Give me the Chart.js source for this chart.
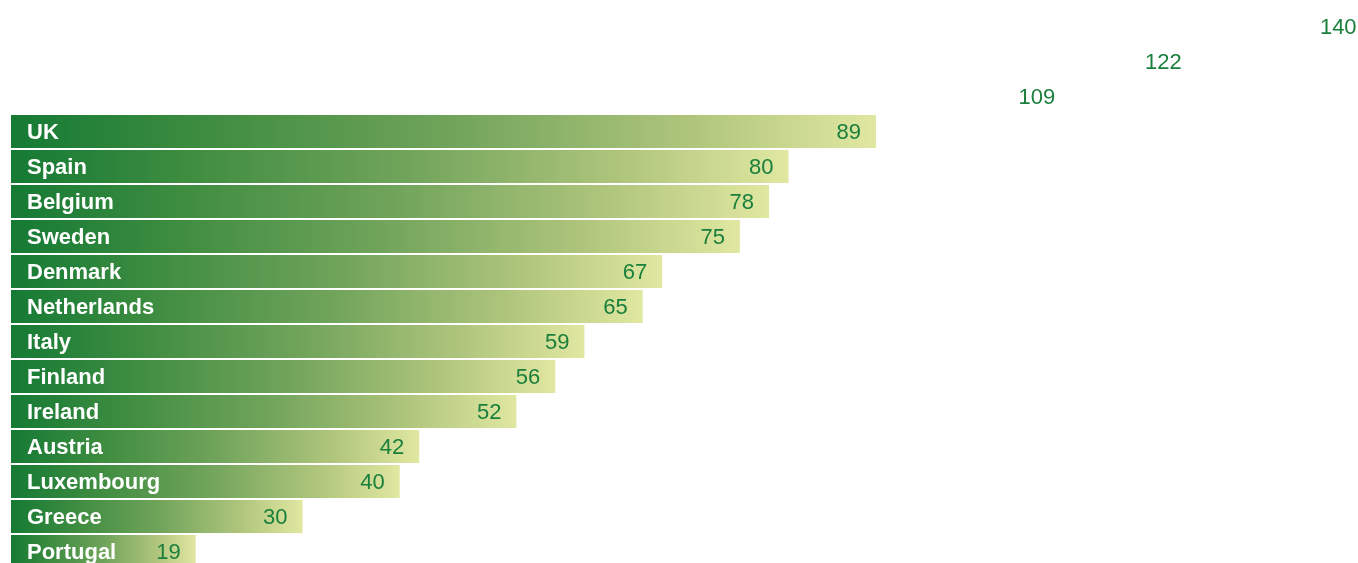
<!DOCTYPE html>
<html>
<head>
<meta charset="utf-8">
<script src="https://cdn.jsdelivr.net/npm/chart.js@4/dist/chart.umd.min.js"></script>
<style>
  html, body { margin: 0; padding: 0; background: #fff; overflow: hidden; }
  #wrap { position: relative; width: 1358px; height: 575px; }
</style>
</head>
<body>
<div id="wrap"><canvas id="barChart"></canvas></div>
<script>
// Data (top three rows have no visible bar or name)
const countries = ['', '', '', 'UK', 'Spain', 'Belgium', 'Sweden', 'Denmark', 'Netherlands',
  'Italy', 'Finland', 'Ireland', 'Austria', 'Luxembourg', 'Greece', 'Portugal'];
const values = [140, 122, 109, 89, 80, 78, 75, 67, 65, 59, 56, 52, 42, 40, 30, 19];
const hiddenRows = 3;

const green = '#1a7f3c';

// gradient that runs from the bar's base to its own end
function barGradient(context) {
    const chart = context.chart;
    const i = context.dataIndex;
    if (i < hiddenRows) return 'rgba(255,255,255,0)';
    const x = chart.scales.x;
    if (!x || !chart.chartArea) return green;
    const x0 = x.getPixelForValue(0);
    const x1 = x.getPixelForValue(values[i]);
    const g = chart.ctx.createLinearGradient(x0, 0, x1, 0);
    g.addColorStop(0, '#157a34');
    g.addColorStop(0.22, '#3d8c40');
    g.addColorStop(0.5, '#6fa35a');
    g.addColorStop(0.78, '#aec47b');
    g.addColorStop(1, '#e0e7a1');
    return g;
}

// Category names inside the bar, values at the bar end
const barLabels = {
    id: 'barLabels',
    afterDatasetsDraw(chart) {
        const ctx = chart.ctx;
        const meta = chart.getDatasetMeta(0);
        ctx.save();
        ctx.textBaseline = 'middle';
        meta.data.forEach((bar, i) => {
            if (countries[i]) {
                ctx.font = 'bold 22px "Liberation Sans", Arial, sans-serif';
                ctx.fillStyle = '#ffffff';
                ctx.textAlign = 'left';
                ctx.fillText(countries[i], chart.chartArea.left + 16, bar.y + 1);
            }
            ctx.font = '22px "Liberation Sans", Arial, sans-serif';
            ctx.fillStyle = green;
            ctx.textAlign = 'right';
            ctx.fillText(String(values[i]), bar.x - 15, bar.y + 1);
        });
        ctx.restore();
    }
};

const ctx = document.getElementById('barChart').getContext('2d');
const chart = new Chart(ctx, {
    type: 'bar',
    data: {
        labels: countries,
        datasets: [{
            data: values,
            backgroundColor: barGradient,
            borderWidth: 0,
            categoryPercentage: 1,
            barPercentage: 33 / 35,
        }],
    },
    options: {
        indexAxis: 'y',
        responsive: true,
        maintainAspectRatio: false,
        animation: false,
        layout: { padding: { left: 11, top: 9, right: 0, bottom: 6 } },
        plugins: { legend: { display: false }, tooltip: { enabled: false } },
        scales: {
            x: { display: false, min: 0, max: 138.6 },
            y: { display: false },
        },
    },
    plugins: [barLabels],
});
</script>
</body>
</html>
